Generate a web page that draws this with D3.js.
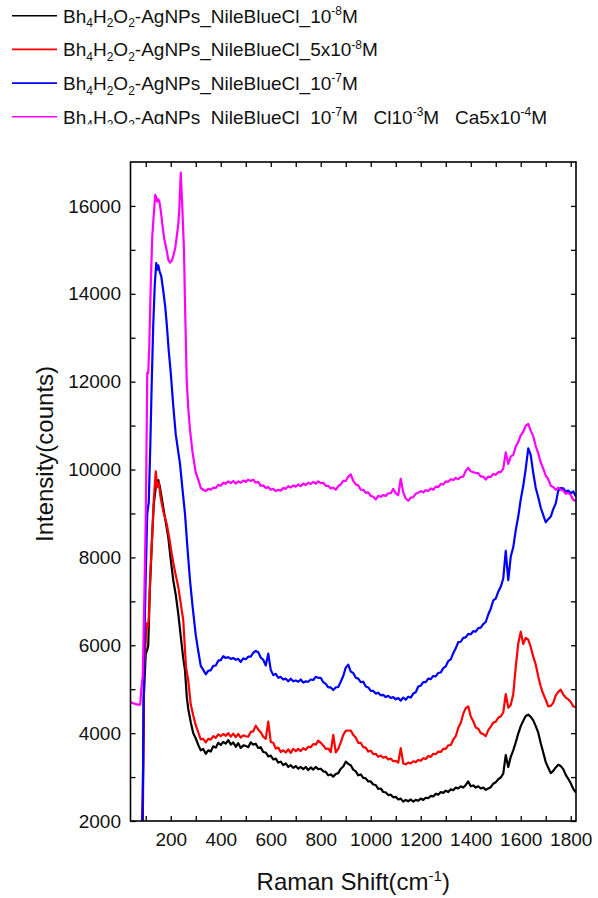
<!DOCTYPE html>
<html>
<head>
<meta charset="utf-8">
<script src="https://cdn.jsdelivr.net/npm/d3@7"></script>
<style>
body { margin: 0; background: #fff; }
svg { display: block; font-family: "Liberation Sans", Arial, sans-serif; }
</style>
</head>
<body>
<div id="chart"></div>
<script>
'use strict';

// Raman shift grid of the flat part of the spectra (cm-1), one reading per 10 cm-1
const shift = d3.range(300, 1821, 10);

// the sharp band below 300 cm-1, read as [shift, counts]
const blackHead = [[84, 1500], [88, 1800], [92, 4800], [100, 5800], [106, 5900], [110, 6000], [116, 7200],
    [124, 8300], [132, 9200], [140, 9600], [146, 9700], [150, 9760], [156, 9620], [164, 9350], [170, 9140],
    [180, 8800], [190, 8460], [200, 7950], [210, 7480], [220, 7150], [230, 6720], [240, 6200], [250, 5700],
    [257, 5430], [264, 4830], [270, 4550], [280, 4250], [290, 4000]];
const redHead = [[84, 1500], [88, 2500], [94, 5500], [100, 6100], [104, 6500], [108, 6400], [112, 6600],
    [118, 7600], [124, 8250], [132, 9300], [140, 9960], [146, 9600], [152, 9700], [160, 9350], [170, 9050],
    [184, 8760], [194, 8450], [204, 8080], [216, 7700], [230, 7330], [240, 6950], [250, 6570], [261, 5500],
    [270, 5200], [280, 4650], [290, 4400]];
const blueHead = [[84, 1500], [88, 2500], [94, 6000], [100, 7600], [106, 9000], [112, 9250], [118, 10500],
    [124, 12000], [130, 13300], [136, 14200], [142, 14700], [146, 14550], [150, 14650], [156, 14500],
    [162, 14400], [170, 14070], [178, 13700], [184, 13310], [192, 12700], [200, 12200], [210, 11450],
    [220, 10800], [237, 10130], [247, 9550], [257, 8990], [267, 8200], [277, 7480], [287, 6900]];
const magentaHead = [[40, 4700], [50, 4680], [60, 4660], [70, 4650], [78, 4650], [82, 5000], [88, 5300],
    [94, 7000], [100, 8900], [104, 11000], [106, 12200], [110, 12200], [114, 12800], [120, 14200],
    [126, 15300], [132, 15800], [138, 16250], [142, 16200], [146, 16100], [150, 16150], [154, 16110],
    [160, 15900], [166, 15600], [174, 15250], [184, 14980], [190, 14780], [197, 14710], [205, 14760],
    [212, 14900], [218, 15050], [224, 15300], [230, 15580], [234, 15900], [240, 16760], [246, 16000],
    [253, 14980], [258, 13500], [264, 12000], [270, 11400], [277, 10900], [287, 10400]];

// counts on the shift grid, 300 .. 1820
const blackCounts = [
    3880, 3730, 3610, 3640, 3530, 3610, 3580, 3700, 3670, 3780,
    3730, 3800, 3760, 3840, 3740, 3790, 3690, 3770, 3660, 3720,
    3710, 3680, 3790, 3740, 3760, 3660, 3680, 3570, 3560, 3470,
    3490, 3400, 3420, 3330, 3350, 3270, 3310, 3230, 3270, 3210,
    3250, 3190, 3230, 3180, 3230, 3160, 3220, 3170, 3230, 3180,
    3190, 3130, 3120, 3040, 3060, 3010, 3070, 3090, 3190, 3240,
    3350, 3300, 3270, 3170, 3130, 3040, 3060, 2980, 2970, 2900,
    2900, 2830, 2820, 2730, 2740, 2660, 2650, 2590, 2600, 2540,
    2550, 2490, 2510, 2440, 2480, 2450, 2490, 2440, 2480, 2460,
    2510, 2480, 2530, 2520, 2570, 2560, 2620, 2600, 2660, 2640,
    2690, 2660, 2720, 2700, 2760, 2740, 2790, 2760, 2820, 2900,
    2790, 2810, 2760, 2790, 2740, 2760, 2710, 2740, 2770, 2850,
    2880, 2950, 2990, 3080, 3500, 3230, 3460, 3610, 3790, 3990,
    4160, 4280, 4390, 4420, 4370, 4290, 4160, 4010, 3770, 3560,
    3340, 3210, 3090, 3140, 3220, 3280, 3250, 3180, 3050, 2960,
    2860, 2730, 2650];
const redCounts = [
    4180, 4020, 3860, 3870, 3790, 3870, 3850, 3930, 3890, 3970,
    3930, 3980, 3940, 4000, 3920, 3990, 3910, 3980, 3900, 3950,
    3930, 3920, 4030, 4040, 4170, 4080, 4020, 3920, 3870, 4260,
    3800, 3780, 3650, 3670, 3570, 3610, 3560, 3630, 3550, 3640,
    3590, 3640, 3590, 3660, 3620, 3690, 3680, 3750, 3740, 3830,
    3780, 3720, 3640, 3650, 3570, 3960, 3560, 3640, 3790, 3960,
    4050, 4060, 4060, 3960, 3900, 3780, 3780, 3680, 3670, 3580,
    3600, 3520, 3530, 3460, 3490, 3440, 3460, 3400, 3420, 3360,
    3370, 3330, 3660, 3310, 3290, 3330, 3310, 3360, 3340, 3390,
    3370, 3430, 3410, 3480, 3460, 3530, 3520, 3580, 3570, 3640,
    3640, 3720, 3730, 3850, 3930, 4120, 4230, 4440, 4570, 4610,
    4380, 4270, 4130, 4100, 4000, 3980, 3930, 4070, 4150, 4240,
    4260, 4350, 4380, 4470, 4890, 4580, 4640, 4890, 5510, 6040,
    6310, 6030, 6170, 6130, 5960, 5740, 5560, 5290, 5060, 4890,
    4760, 4610, 4620, 4690, 4860, 4940, 4990, 4880, 4810, 4770,
    4710, 4610, 4590];
const blueCounts = [
    6230, 5870, 5530, 5440, 5340, 5420, 5430, 5530, 5540, 5650,
    5660, 5750, 5710, 5730, 5690, 5710, 5670, 5690, 5620, 5700,
    5680, 5740, 5740, 5830, 5870, 5840, 5720, 5670, 5540, 5810,
    5440, 5320, 5350, 5260, 5280, 5220, 5240, 5180, 5240, 5180,
    5200, 5170, 5220, 5150, 5180, 5170, 5220, 5210, 5280, 5260,
    5260, 5160, 5120, 5040, 5040, 4980, 5040, 5050, 5170, 5300,
    5490, 5560, 5400, 5370, 5260, 5240, 5160, 5170, 5060, 5040,
    4960, 4960, 4900, 4920, 4860, 4870, 4820, 4850, 4800, 4820,
    4770, 4800, 4740, 4810, 4760, 4830, 4810, 4900, 4930, 5060,
    5080, 5160, 5160, 5240, 5230, 5300, 5290, 5370, 5380, 5480,
    5520, 5640, 5680, 5820, 5930, 6070, 6080, 6170, 6180, 6260,
    6250, 6320, 6310, 6390, 6400, 6480, 6530, 6700, 6830, 7020,
    7060, 7220, 7330, 7520, 8150, 7480, 8020, 8230, 8620, 8930,
    9320, 9630, 10020, 10480, 10330, 9920, 9580, 9370, 9130, 8960,
    8800, 8870, 8930, 9100, 9230, 9520, 9580, 9570, 9500, 9520,
    9460, 9500, 9390];
const magentaCounts = [
    9930, 9770, 9580, 9540, 9510, 9560, 9540, 9590, 9580, 9650,
    9630, 9700, 9680, 9730, 9690, 9740, 9680, 9730, 9700, 9750,
    9720, 9770, 9740, 9770, 9700, 9720, 9630, 9640, 9580, 9600,
    9540, 9560, 9510, 9540, 9520, 9580, 9560, 9620, 9590, 9640,
    9610, 9660, 9620, 9680, 9650, 9700, 9670, 9720, 9680, 9730,
    9690, 9700, 9630, 9630, 9570, 9590, 9540, 9620, 9660, 9740,
    9740, 9840, 9890, 9740, 9660, 9640, 9540, 9540, 9470, 9480,
    9400, 9380, 9320, 9400, 9380, 9420, 9400, 9460, 9460, 9560,
    9460, 9420, 9790, 9480, 9340, 9290, 9360, 9370, 9450, 9470,
    9510, 9480, 9530, 9510, 9570, 9540, 9610, 9600, 9670, 9660,
    9730, 9720, 9780, 9760, 9810, 9780, 9830, 9840, 9970, 10040,
    9960, 9940, 9920, 9920, 9840, 9840, 9770, 9840, 9830, 9900,
    9880, 9940, 9940, 10020, 10390, 10130, 10300, 10330, 10520, 10630,
    10780, 10860, 11000, 11040, 10880, 10760, 10530, 10370, 10160, 10020,
    9860, 9780, 9630, 9600, 9540, 9590, 9540, 9520, 9450, 9470,
    9420, 9310, 9280];

// legend labels as [text, 'sub' | 'sup' | undefined]
const labelBase = [['Bh'], ['4', 'sub'], ['H'], ['2', 'sub'], ['O'], ['2', 'sub'], ['-AgNPs_NileBlueCl_']];
const labels = [
    labelBase.concat([['10'], ['-8', 'sup'], ['M']]),
    labelBase.concat([['5x10'], ['-8', 'sup'], ['M']]),
    labelBase.concat([['10'], ['-7', 'sup'], ['M']]),
    labelBase.concat([['10'], ['-7', 'sup'], ['M_ Cl10'], ['-3', 'sup'], ['M_ Ca5x10'], ['-4', 'sup'], ['M']]),
];
const colors = ['#000000', '#ff0000', '#0000ff', '#ff00ff'];

const xMajor = [200, 400, 600, 800, 1000, 1200, 1400, 1600, 1800];
const xMinor = [100, 300, 500, 700, 900, 1100, 1300, 1500, 1700];
const yMajor = [2000, 4000, 6000, 8000, 10000, 12000, 14000, 16000];
const yMinor = [3000, 5000, 7000, 9000, 11000, 13000, 15000];

const series = [
    {head: blackHead, counts: blackCounts},
    {head: redHead, counts: redCounts},
    {head: blueHead, counts: blueCounts},
    {head: magentaHead, counts: magentaCounts},
].map((s, i) => ({
    color: colors[i],
    label: labels[i],
    points: s.head.concat(shift.map((v, j) => [v, s.counts[j]])),
}));

const W = 598, H = 898;
const margin = {top: 162, right: 22, bottom: 77, left: 130.5};
const width = W - margin.left - margin.right,
    height = H - margin.top - margin.bottom;

const svg = d3.select('#chart').append('svg')
    .attr('width', W)
    .attr('height', H);

const x = d3.scaleLinear().domain([39, 1821]).range([0, width]);
const y = d3.scaleLinear().domain([2000, 17000]).range([height, 0]);

svg.append('clipPath').attr('id', 'plotclip')
    .append('rect').attr('width', width).attr('height', height);
svg.append('clipPath').attr('id', 'legendclip')
    .append('rect').attr('width', W).attr('height', 124.5);

const g = svg.append('g')
    .attr('transform', `translate(${margin.left},${margin.top})`);

// spectra
const line = d3.line().x(d => x(d[0])).y(d => y(d[1]));
g.append('g')
    .attr('clip-path', 'url(#plotclip)')
    .selectAll('path')
    .data(series)
    .join('path')
        .attr('fill', 'none')
        .attr('stroke', d => d.color)
        .attr('stroke-width', 2.2)
        .attr('stroke-linejoin', 'round')
        .attr('d', d => line(d.points));

// ticks all point inwards, on the four sides
function styleAxis(sel, fontSize) {
    sel.select('.domain').remove();
    sel.selectAll('line').attr('stroke', '#000').attr('stroke-width', 1.3);
    sel.attr('font-family', null).attr('font-size', fontSize);
    sel.selectAll('text').attr('fill', '#111');
}
g.append('g')
    .attr('transform', `translate(0,${height})`)
    .call(d3.axisBottom(x).tickValues(xMajor).tickFormat(d3.format('d'))
        .tickSizeInner(-5).tickSizeOuter(0).tickPadding(12))
    .call(styleAxis, 19);
g.append('g')
    .attr('transform', `translate(0,${height})`)
    .call(d3.axisBottom(x).tickValues(xMinor).tickFormat('').tickSizeInner(-5).tickSizeOuter(0))
    .call(styleAxis, 19);
g.append('g')
    .call(d3.axisTop(x).tickValues(xMajor.concat(xMinor)).tickFormat('').tickSizeInner(-5).tickSizeOuter(0))
    .call(styleAxis, 19);
g.append('g')
    .call(d3.axisLeft(y).tickValues(yMajor).tickFormat(d3.format('d'))
        .tickSizeInner(-5).tickSizeOuter(0).tickPadding(9.5))
    .call(styleAxis, 19);
g.append('g')
    .call(d3.axisLeft(y).tickValues(yMinor).tickFormat('').tickSizeInner(-5).tickSizeOuter(0))
    .call(styleAxis, 19);
g.append('g')
    .attr('transform', `translate(${width},0)`)
    .call(d3.axisRight(y).tickValues(yMajor.concat(yMinor)).tickFormat('').tickSizeInner(-5).tickSizeOuter(0))
    .call(styleAxis, 19);

g.append('rect')
    .attr('width', width)
    .attr('height', height)
    .attr('fill', 'none')
    .attr('stroke', '#000')
    .attr('stroke-width', 1.6);

// axis titles
svg.append('text')
    .attr('x', margin.left + width / 2)
    .attr('y', 890)
    .attr('text-anchor', 'middle')
    .attr('font-size', 24)
    .attr('fill', '#111')
    .call(t => {
        t.append('tspan').text('Raman Shift(cm');
        t.append('tspan').attr('font-size', 15).attr('dy', -9).text('-1');
        t.append('tspan').attr('dy', 9).text(')');
    });
svg.append('text')
    .attr('transform', 'translate(53,454) rotate(-90)')
    .attr('text-anchor', 'middle')
    .attr('font-size', 24)
    .attr('fill', '#111')
    .text('Intensity(counts)');

// legend, cut off at the bottom like the source picture
const legend = svg.append('g').attr('clip-path', 'url(#legendclip)')
    .selectAll('g')
    .data(series)
    .join('g')
        .attr('transform', (d, i) => `translate(0,${15.7 + i * 33.7})`);
legend.append('line')
    .attr('x1', 12).attr('x2', 57)
    .attr('stroke', d => d.color)
    .attr('stroke-width', 1.6);
legend.append('text')
    .attr('x', 63)
    .attr('y', 6.8)
    .attr('font-size', 19)
    .attr('fill', '#111')
    .attr('xml:space', 'preserve')
    .style('white-space', 'pre')
    .each(function (d) {
        const t = d3.select(this);
        let shiftY = 0;
        d.label.forEach(([str, kind]) => {
            const target = kind === 'sub' ? 5 : kind === 'sup' ? -7.5 : 0;
            t.append('tspan')
                .attr('dy', target - shiftY)
                .attr('font-size', kind ? 12 : 19)
                .text(str);
            shiftY = target;
        });
    });
</script>
</body>
</html>
